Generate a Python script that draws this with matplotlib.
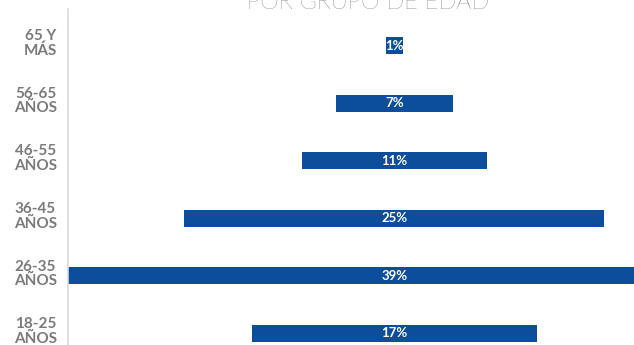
import matplotlib
matplotlib.use("Agg")
import matplotlib.pyplot as plt

categories = ["65 Y\nMÁS", "56-65\nAÑOS", "46-55\nAÑOS", "36-45\nAÑOS", "26-35\nAÑOS", "18-25\nAÑOS"]
shares = [1, 7, 11, 25, 39, 17]
labels = [f"{v}%" for v in shares]

W, H = 634, 345
bar_color = "#0c4e9b"
label_gray = "#7a7a7a"

fig = plt.figure(figsize=(W / 100, H / 100), dpi=100)
# axes spans from the vertical line at x=68 px to the right edge; the widest bar is clipped
ax = fig.add_axes([68 / W, 0, 1 - 68 / W, 1 - 9 / H])

pos = list(range(len(categories)))
lefts = [-v / 2 for v in shares]
ax.barh(pos, shares, left=lefts, height=0.295, color=bar_color)
for p, v, lab in zip(pos, shares, labels):
    ax.text(0, p, lab, ha="center", va="center", color="white",
            fontsize=9.5, fontweight="bold", family=["Lato", "DejaVu Sans"])

ax.set_xlim(-19.43, 14.26)
ax.set_ylim(5.2, -0.634)
ax.set_xticks([])
ax.set_yticks([])
for side in ["top", "right", "bottom"]:
    ax.spines[side].set_visible(False)
ax.spines["left"].set_color("#d9d9d9")
ax.spines["left"].set_linewidth(1.2)

# category labels, block right-aligned in the left margin, lines centred
for p, cat in zip(pos, categories):
    y_px = 45.5 + 57.6 * p - 2
    fig.text(57 / W, 1 - y_px / H, cat, ha="right", va="center", multialignment="center",
             color=label_gray, fontsize=11, fontweight="bold", linespacing=1.05,
             family=["Lato", "DejaVu Sans"])

# title sits mostly above the visible area, as in the cropped source
fig.text(368 / W, 1 - 9 / H, "POR GRUPO DE EDAD", ha="center", va="baseline",
         color="#3a3a3a", fontsize=17, fontweight="light", family=["Lato", "DejaVu Sans"])

fig.savefig("out.png", dpi=100)
